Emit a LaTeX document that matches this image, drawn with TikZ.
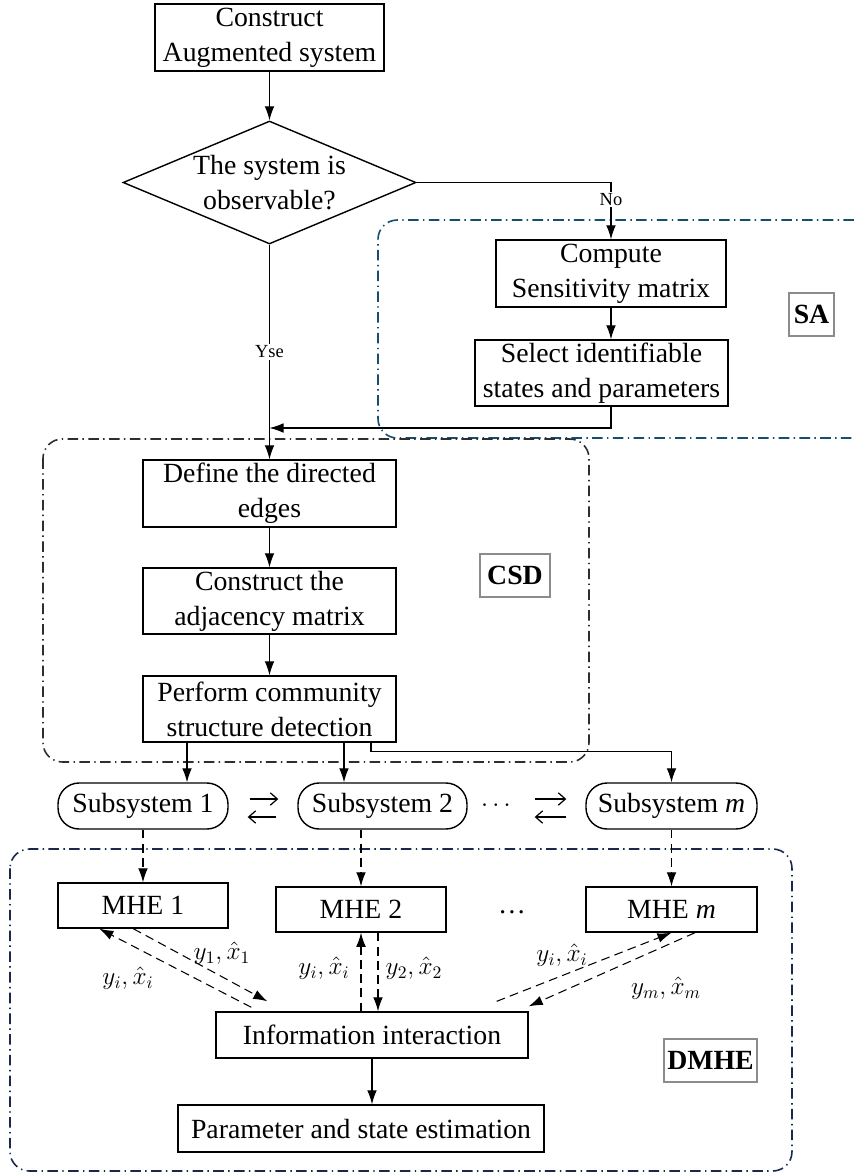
\documentclass[tikz,border=0pt]{standalone}
\usepackage{fontspec}
\setmainfont{Liberation Serif}
\usetikzlibrary{shapes.geometric,arrows.meta}

\definecolor{sacol}{RGB}{20,80,110}
\definecolor{csdcol}{RGB}{45,45,50}
\definecolor{dmhecol}{RGB}{25,40,75}
\definecolor{tagcol}{RGB}{140,140,140}

\begin{document}
\begin{tikzpicture}[x=0.02cm,y=-0.02cm,>={Latex[length=8pt,width=5.5pt]},
    font=\fontsize{15.8}{19.8}\selectfont,
    box/.style={draw,line width=0.8pt,align=center,inner sep=1pt},
    cond/.style={draw,line width=0.8pt,diamond,aspect=2.4,inner sep=0pt,align=center},
    subsys/.style={draw,line width=0.8pt,rounded corners=12pt,inner sep=1pt},
    tag/.style={draw=tagcol,line width=1.2pt,font=\fontsize{15.8}{19.8}\selectfont\bfseries,inner sep=0pt},
    line/.style={->,line width=0.6pt},
    dline/.style={->,line width=0.6pt,dash pattern=on 5pt off 3pt},
    swap/.style={-{Straight Barb[length=4pt,width=7pt]},line width=0.7pt},
    region/.style={line width=0.9pt,rounded corners=11pt,dash pattern=on 6pt off 2.5pt on 0.8pt off 2.5pt},
    small/.style={font=\fontsize{10.5}{12}\selectfont,fill=white,inner sep=1pt},
    lab/.style={font=\fontsize{14.4}{17}\selectfont,inner sep=1pt}]
    \useasboundingbox (0,0) rectangle (854,1174);
    %===========================================
    \draw[region,draw=sacol] (854,220) -- (378,220) -- (378,438) -- (854,438);
    \draw[region,draw=csdcol] (43,439) rectangle (589,762);
    \draw[region,draw=dmhecol] (10,849) rectangle (792,1171);
    %===========================================
    \node[box,minimum width=4.58cm,minimum height=1.34cm] (aug) at (269.5,37.5) {Construct\\Augmented system};
    \node[cond,minimum width=5.86cm,minimum height=2.46cm] (obs) at (269.5,182.5) {The system is\\observable?};
    \node[box,minimum width=4.6cm,minimum height=1.34cm] (comp) at (611,273.5) {Compute\\Sensitivity matrix};
    \node[box,minimum width=5.06cm,minimum height=1.32cm] (sel) at (601.5,373) {Select identifiable\\states and parameters};
    \node[tag,minimum width=0.9cm,minimum height=0.86cm] (satag) at (811.5,314.5) {SA};
    \node[box,minimum width=5.06cm,minimum height=1.34cm] (def) at (269.5,493.5) {Define the directed\\edges};
    \node[box,minimum width=5.06cm,minimum height=1.32cm] (adj) at (269.5,601) {Construct the\\adjacency matrix};
    \node[box,minimum width=5.06cm,minimum height=1.32cm] (perf) at (269.5,709) {Perform community\\structure detection};
    \node[tag,minimum width=1.4cm,minimum height=0.86cm] (csdtag) at (515,575.5) {CSD};
    \node[subsys,minimum width=3.4cm,minimum height=0.92cm] (sub1) at (143,806) {Subsystem 1};
    \node[subsys,minimum width=3.38cm,minimum height=0.92cm] (sub2) at (382.5,806) {Subsystem 2};
    \node[subsys,minimum width=3.42cm,minimum height=0.92cm] (subm) at (671.5,806) {Subsystem \textit{m}};
    \node[font=\fontsize{14.4}{17}\selectfont] (dotsa) at (496,806) {$\cdots$};
    \node[box,minimum width=3.4cm,minimum height=0.9cm] (mhe1) at (143,905.5) {MHE 1};
    \node[box,minimum width=3.4cm,minimum height=0.9cm] (mhe2) at (361,909.5) {MHE 2};
    \node[box,minimum width=3.42cm,minimum height=0.9cm] (mhem) at (671.5,909.5) {MHE \textit{m}};
    \node (dotsb) at (512,912) {\dots};
    \node[box,minimum width=6.24cm,minimum height=0.92cm] (info) at (372,1035) {Information interaction};
    \node[box,minimum width=7.32cm,minimum height=0.94cm] (par) at (361,1128.5) {Parameter and state estimation};
    \node[tag,minimum width=1.86cm,minimum height=0.86cm] (dmhetag) at (710.5,1060.5) {DMHE};
    \coordinate (join) at (269.5,428);
    %===========================================
    \draw[line] (aug) -- (obs);
    \draw[line] (obs.east) -| node[small,pos=0.65] (no) {No} (comp.north);
    \draw[line] (obs.south) -- node[small,pos=0.5] (yes) {Yse} (def.north);
    \draw[line] (comp.south) -- (comp.south |- sel.north);
    \draw[line] (comp.south |- sel.south) |- (join);
    \draw[line] (def) -- (adj);
    \draw[line] (adj) -- (perf);
    \draw[line] ([xshift=-1.65cm]perf.south) -- ([xshift=-1.65cm]perf.south |- sub1.north);
    \draw[line] ([xshift=1.49cm]perf.south) -- ([xshift=1.49cm]perf.south |- sub2.north);
    \draw[line] ([xshift=2.03cm]perf.south) -- ++(0,9) -| (subm.north);
    %===========================================
    \draw[swap,shorten <=0.42cm,shorten >=0.38cm] ([yshift=0.14cm]sub1.east) -- ([yshift=0.14cm]sub2.west);
    \draw[swap,shorten <=0.42cm,shorten >=0.38cm] ([yshift=-0.22cm]sub2.west) -- ([yshift=-0.22cm]sub1.east);
    \draw[swap,shorten <=1.34cm,shorten >=0.38cm] ([yshift=0.14cm]sub2.east) -- ([yshift=0.14cm]subm.west);
    \draw[swap,shorten <=0.38cm,shorten >=1.34cm] ([yshift=-0.22cm]subm.west) -- ([yshift=-0.22cm]sub2.east);
    %===========================================
    \draw[dline] (sub1) -- (mhe1);
    \draw[dline] (mhe2.north |- sub2.south) -- (mhe2.north);
    \draw[dline] (subm) -- (mhem);
    \draw[dline] ([xshift=0.72cm,yshift=0.08cm]info.north west) -- ([xshift=0.84cm]mhe1.south west);
    \draw[dline] ([xshift=1.52cm]mhe1.south west) -- ([xshift=1.04cm,yshift=0.2cm]info.north west);
    \draw[dline] (mhe2.south |- info.north) -- (mhe2.south);
    \draw[dline] ([xshift=0.34cm]mhe2.south) -- ([xshift=0.34cm]mhe2.south |- info.north);
    \draw[dline] ([xshift=-0.64cm,yshift=0.2cm]info.north east) -- (mhem.south);
    \draw[dline] ([xshift=0.47cm]mhem.south) -- ([yshift=0.1cm]info.north east);
    \node[lab] (l1) at (222,953) {$y_1,\hat{x}_1$};
    \node[lab] (l2) at (128,978) {$y_i,\hat{x}_i$};
    \node[lab] (l3) at (324,968) {$y_i,\hat{x}_i$};
    \node[lab] (l4) at (414,968) {$y_2,\hat{x}_2$};
    \node[lab] (l5) at (562,955) {$y_i,\hat{x}_i$};
    \node[lab] (l6) at (666,988) {$y_m,\hat{x}_m$};
    \draw[line] (info.south) -- (info.south |- par.north);
\end{tikzpicture}
\end{document}
